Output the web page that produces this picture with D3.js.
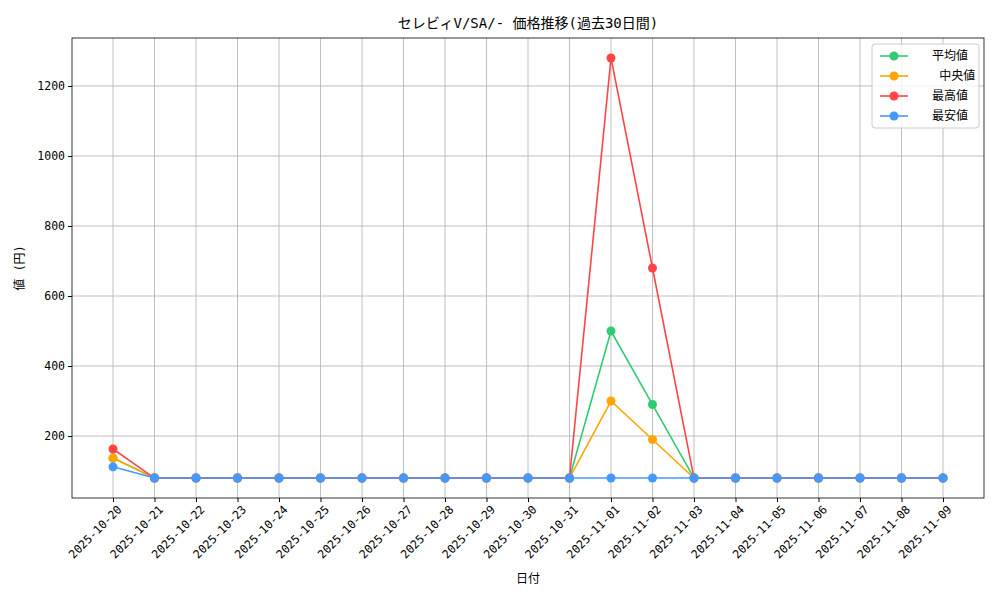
<!DOCTYPE html>
<html><head><meta charset="utf-8">
<script src="https://cdn.jsdelivr.net/npm/d3@7"></script>
<style>body{margin:0;background:#fff}text{font-family:"DejaVu Sans Mono","Noto Sans CJK JP",monospace}</style>
</head><body><svg id="c" width="1000" height="600"></svg>
<script>
const dates=["2025-10-20","2025-10-21","2025-10-22","2025-10-23","2025-10-24","2025-10-25","2025-10-26","2025-10-27","2025-10-28","2025-10-29","2025-10-30","2025-10-31","2025-11-01","2025-11-02","2025-11-03","2025-11-04","2025-11-05","2025-11-06","2025-11-07","2025-11-08","2025-11-09"];
const avgVals=[137,80,80,80,80,80,80,80,80,80,80,80,500,290,80,80,80,80,80,80,80];
const medVals=[137,80,80,80,80,80,80,80,80,80,80,80,300,190,80,80,80,80,80,80,80];
const maxVals=[163,80,80,80,80,80,80,80,80,80,80,80,1280,680,80,80,80,80,80,80,80];
const minVals=[112,80,80,80,80,80,80,80,80,80,80,80,80,80,80,80,80,80,80,80,80];
const yTicks=[200,400,600,800,1000,1200];
const series=[{name:"平均値",v:avgVals,c:"#2ecc71"},{name:" 中央値",v:medVals,c:"#ffa500"},{name:"最高値",v:maxVals,c:"#ff4444"},{name:"最安値",v:minVals,c:"#4499ff"}];
const svg=d3.select("#c");
const L=72,R=984,T=38,B=498;
const x=d3.scalePoint().domain(dates).range([113,943]);
const y=d3.scaleLinear().domain([23,1337]).range([B,T]);
const g=svg.append("g");
g.selectAll(".vg").data(dates).join("line").attr("x1",d=>x(d)).attr("x2",d=>x(d)).attr("y1",T).attr("y2",B).attr("stroke","#b0b0b0").attr("stroke-width",0.8);
g.selectAll(".hg").data(yTicks).join("line").attr("x1",L).attr("x2",R).attr("y1",d=>y(d)).attr("y2",d=>y(d)).attr("stroke","#b0b0b0").attr("stroke-width",0.8);
const xa=svg.append("g").attr("transform",`translate(0,${B})`).call(d3.axisBottom(x).tickSize(4).tickPadding(3));
xa.select(".domain").remove();
xa.selectAll("text").attr("text-anchor","end").attr("font-size",11.5).attr("fill","#000").attr("transform","rotate(-45)").attr("dx","-0.2em").attr("dy","0.7em");
const ya=svg.append("g").attr("transform",`translate(${L},0)`).call(d3.axisLeft(y).tickValues(yTicks).tickFormat(d3.format("d")).tickSize(4).tickPadding(3));
ya.select(".domain").remove();
ya.selectAll("text").attr("font-size",11.5).attr("fill","#000");
svg.append("rect").attr("x",L).attr("y",T).attr("width",R-L).attr("height",B-T).attr("fill","none").attr("stroke","#000").attr("stroke-width",0.8);
const line=d3.line().x((d,i)=>x(dates[i])).y(d=>y(d));
series.forEach(s=>{
 svg.append("path").attr("d",line(s.v)).attr("fill","none").attr("stroke",s.c).attr("stroke-width",1.6);
 svg.selectAll(null).data(s.v).join("circle").attr("cx",(d,i)=>x(dates[i])).attr("cy",d=>y(d)).attr("r",4.5).attr("fill",s.c);
});
svg.append("text").attr("x",528).attr("y",28).attr("text-anchor","middle").attr("font-size",14).text("セレビィV/SA/- 価格推移(過去30日間)");
svg.append("text").attr("x",528).attr("y",583).attr("text-anchor","middle").attr("font-size",12).text("日付");
svg.append("text").attr("transform","translate(24,268) rotate(-90)").attr("text-anchor","middle").attr("font-size",12).text("値 (円)");
const lg=svg.append("g").attr("transform","translate(872,44)");
lg.append("rect").attr("width",107).attr("height",84).attr("rx",3).attr("fill","#fff").attr("fill-opacity",0.8).attr("stroke","#ccc");
series.forEach((s,i)=>{
 const yy=12+i*20;
 lg.append("line").attr("x1",8).attr("x2",36).attr("y1",yy).attr("y2",yy).attr("stroke",s.c).attr("stroke-width",1.6);
 lg.append("circle").attr("cx",22).attr("cy",yy).attr("r",4.5).attr("fill",s.c);
 lg.append("text").attr("x",60).attr("y",yy+4).attr("font-size",12).attr("xml:space","preserve").style("white-space","pre").text(s.name);
});
</script></body></html>
